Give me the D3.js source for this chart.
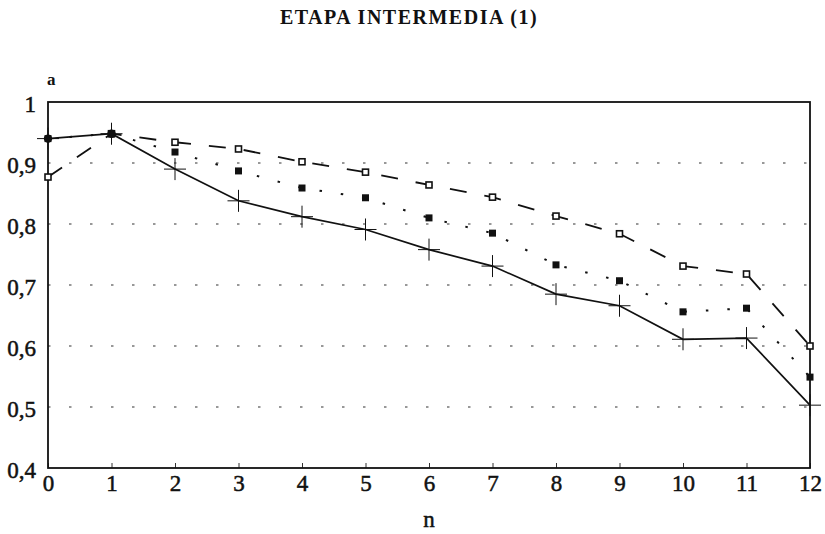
<!DOCTYPE html>
<html>
<head>
<meta charset="utf-8">
<script src="https://cdn.jsdelivr.net/npm/d3@7"></script>
<style>
body { margin: 0; background: #fff; }
text { font-family: "Liberation Serif", "DejaVu Serif", serif; fill: #111; }
</style>
</head>
<body>
<script>
const WIDTH = 825;
const HEIGHT = 534;

var nValues = [0, 1, 2, 3, 4, 5, 6, 7, 8, 9, 10, 11, 12];
var solidSeries = [0.94, 0.948, 0.890, 0.838, 0.812, 0.791, 0.758, 0.731, 0.685, 0.666, 0.611, 0.613, 0.503];
var dottedSeries = [0.94, 0.948, 0.918, 0.887, 0.859, 0.843, 0.810, 0.785, 0.733, 0.707, 0.656, 0.662, 0.549];
var dashedSeries = [0.877, 0.948, 0.934, 0.923, 0.902, 0.885, 0.864, 0.844, 0.813, 0.784, 0.731, 0.718, 0.600];
var yTicks = [0.4, 0.5, 0.6, 0.7, 0.8, 0.9, 1];
var gridValues = [0.5, 0.6, 0.7, 0.8, 0.9];

var margin = {left: 48, right: 15, top: 102, bottom: 66};

var svg = d3.select('body').append('svg')
    .attr('width', WIDTH)
    .attr('height', HEIGHT);

var x = d3.scaleLinear().domain([0, 12]).range([margin.left, WIDTH - margin.right]);
var y = d3.scaleLinear().domain([0.4, 1]).range([HEIGHT - margin.bottom, margin.top]);

svg.append('text')
    .attr('x', 409)
    .attr('y', 24)
    .attr('text-anchor', 'middle')
    .style('font-size', '20px')
    .style('font-weight', 'bold')
    .style('letter-spacing', '1.5px')
    .text('ETAPA INTERMEDIA (1)');

// grid
svg.selectAll('line.grid')
    .data(gridValues)
    .enter()
    .append('line')
    .attr('class', 'grid')
    .attr('x1', x(0)).attr('x2', x(12))
    .attr('y1', function(d) { return y(d); })
    .attr('y2', function(d) { return y(d); })
    .attr('stroke', '#333')
    .attr('stroke-width', 1.2)
    .attr('stroke-dasharray', '2.5,18.5');

// axes
var xAxis = d3.axisBottom(x).tickValues(nValues).tickSize(-5).tickPadding(11).tickFormat(d3.format('d'));
var yAxis = d3.axisLeft(y).tickValues(yTicks).tickSize(0).tickPadding(12)
    .tickFormat(function(d) { return d === 1 ? '1' : d3.format('.1f')(d).replace('.', ','); });

var gx = svg.append('g')
    .attr('transform', 'translate(0,' + y(0.4) + ')')
    .call(xAxis);
var gy = svg.append('g')
    .attr('transform', 'translate(' + x(0) + ',0)')
    .call(yAxis);
[gx, gy].forEach(function(g) {
    g.select('.domain').remove();
    g.selectAll('text')
        .style('font-size', '23px')
        .style('font-family', '"Liberation Serif", serif')
        .attr('fill', '#111')
        .attr('stroke', '#111')
        .attr('stroke-width', 0.5);
    g.selectAll('line').attr('stroke', '#333');
});
gx.selectAll('text').attr('dy', '0.5em');
gy.selectAll('text').attr('dy', '0.4em');

svg.append('rect')
    .attr('x', x(0)).attr('y', y(1))
    .attr('width', x(12) - x(0))
    .attr('height', y(0.4) - y(1))
    .attr('fill', 'none')
    .attr('stroke', '#111')
    .attr('stroke-width', 1.8);

svg.append('text').attr('x', 47).attr('y', 85).style('font-size', '17px').style('font-weight', 'bold').text('a');
svg.append('text').attr('x', x(6)).attr('y', 527).attr('text-anchor', 'middle')
    .style('font-size', '23px').attr('stroke', '#111').attr('stroke-width', 0.5).text('n');

var line = d3.line()
    .x(function(d, i) { return x(nValues[i]); })
    .y(function(d) { return y(d); });

svg.append('path').datum(dashedSeries)
    .attr('d', line).attr('fill', 'none')
    .attr('stroke', '#111').attr('stroke-width', 1.8)
    .attr('stroke-dasharray', '17,18');

svg.append('path').datum(dottedSeries)
    .attr('d', line).attr('fill', 'none')
    .attr('stroke', '#111').attr('stroke-width', 2)
    .attr('stroke-dasharray', '2.5,19');

svg.append('path').datum(solidSeries)
    .attr('d', line).attr('fill', 'none')
    .attr('stroke', '#111').attr('stroke-width', 1.7);

// plus markers
svg.selectAll('path.plus')
    .data(solidSeries)
    .enter()
    .append('path')
    .attr('class', 'plus')
    .attr('d', function(d, i) {
        var cx = x(nValues[i]), cy = y(d);
        return 'M' + (cx - 11) + ',' + cy + 'H' + (cx + 11) + 'M' + cx + ',' + (cy - 11) + 'V' + (cy + 11);
    })
    .attr('stroke', '#111').attr('stroke-width', 1);

// filled squares
svg.selectAll('rect.filled')
    .data(dottedSeries)
    .enter()
    .append('rect')
    .attr('class', 'filled')
    .attr('x', function(d, i) { return x(nValues[i]) - 3.5; })
    .attr('y', function(d) { return y(d) - 3.5; })
    .attr('width', 7).attr('height', 7)
    .attr('fill', '#111');

// open squares
svg.selectAll('rect.open')
    .data(dashedSeries)
    .enter()
    .append('rect')
    .attr('class', 'open')
    .attr('x', function(d, i) { return x(nValues[i]) - 3; })
    .attr('y', function(d) { return y(d) - 3; })
    .attr('width', 6).attr('height', 6)
    .attr('fill', '#fff')
    .attr('stroke', '#111').attr('stroke-width', 1.6);

// shared start points drawn as dots
svg.selectAll('circle.start')
    .data(solidSeries.slice(0, 2))
    .enter()
    .append('circle')
    .attr('class', 'start')
    .attr('cx', function(d, i) { return x(nValues[i]); })
    .attr('cy', function(d) { return y(d); })
    .attr('r', 4.2)
    .attr('fill', '#111');
</script>
</body>
</html>
